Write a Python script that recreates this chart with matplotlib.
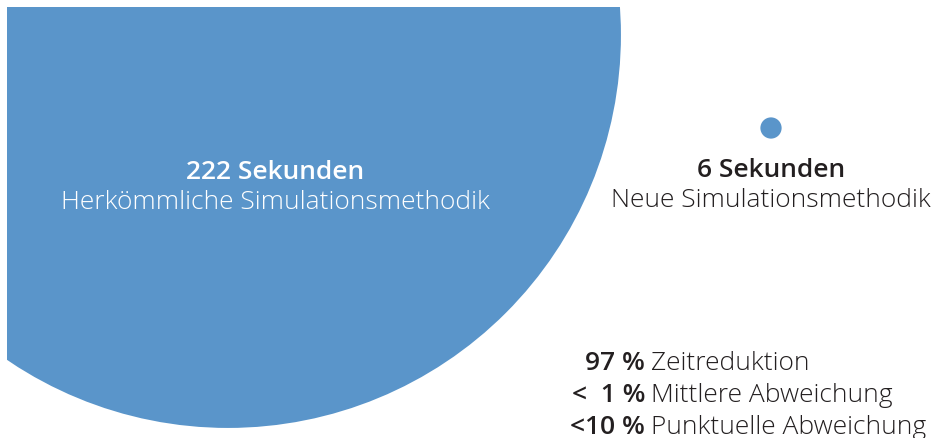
import matplotlib.pyplot as plt
from matplotlib.patches import Circle

# Simulationsdauer in Sekunden
sekunden = [222, 6]
titel = ['222 Sekunden', '6 Sekunden']
methoden = ['Herkömmliche Simulationsmethodik', 'Neue Simulationsmethodik']

kennzahlen = ['97 %', '<  1 %', '<10 %']
kennzahl_texte = ['Zeitreduktion', 'Mittlere Abweichung', 'Punktuelle Abweichung']

blau = '#5A95CA'
dunkel = '#231F20'
px_pro_sekunde = 1.77
plt.rcParams['font.family'] = ['Open Sans', 'DejaVu Sans']
fs = 19

fig = plt.figure(figsize=(9.44, 4.38), dpi=100)
# achse in pixelkoordinaten, oben und links 7px weiss
ax = fig.add_axes([7 / 944, 0, 937 / 944, 431 / 438])
ax.set_xlim(7, 944)
ax.set_ylim(438, 7)
ax.axis('off')

mittelpunkte = [(228, 35), (771, 128)]
for (cx, cy), s in zip(mittelpunkte, sekunden):
    ax.add_patch(Circle((cx, cy), s * px_pro_sekunde, color=blau, lw=0))

# beschriftung grosser kreis
ax.text(275, 172, titel[0], color='white', fontsize=fs, fontweight='semibold',
        ha='center', va='center')
ax.text(275, 202, methoden[0], color='white', fontsize=fs, fontweight='light',
        ha='center', va='center')
# beschriftung kleiner kreis
ax.text(771, 170, titel[1], color=dunkel, fontsize=fs, fontweight='semibold',
        ha='center', va='center')
ax.text(771, 200, methoden[1], color=dunkel, fontsize=fs, fontweight='light',
        ha='center', va='center')

for i, (k, t) in enumerate(zip(kennzahlen, kennzahl_texte)):
    y = 363 + i * 32
    ax.text(645, y, k, color=dunkel, fontsize=fs, fontweight='semibold',
            ha='right', va='center')
    ax.text(651, y, t, color=dunkel, fontsize=fs, fontweight='light',
            ha='left', va='center')

fig.savefig('out.png', dpi=100)
